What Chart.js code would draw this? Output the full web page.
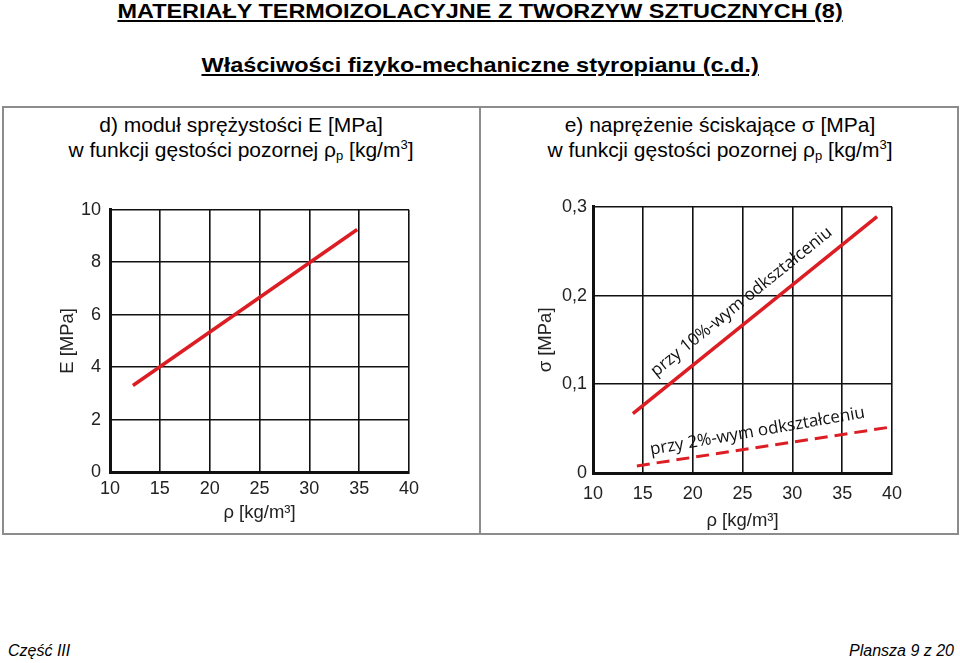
<!DOCTYPE html>
<html lang="pl">
<head>
<meta charset="utf-8">
<script src="https://cdn.jsdelivr.net/npm/chart.js@4.4.1/dist/chart.umd.min.js"></script>
<style>
  body { margin: 0; width: 960px; height: 663px; background: #fff; position: relative; overflow: hidden;
         font-family: "Liberation Sans", Arial, sans-serif; color: #000; }
  .title { position: absolute; left: 0; width: 960px; text-align: center; font-weight: bold;
           font-size: 21px; line-height: 21px; white-space: nowrap; }
  .title span { display: inline-block; text-decoration: underline; transform-origin: 50% 50%; }
  #box { position: absolute; left: 2px; top: 106px; width: 953px; height: 425px; border: 2px solid #8c8c8c; }
  #divider { position: absolute; left: 479px; top: 106px; width: 2px; height: 429px; background: #8c8c8c; }
  .head { position: absolute; top: 112px; width: 478px; text-align: center; font-size: 21px; line-height: 25px; }
  .head sub { font-size: 13px; vertical-align: -3px; line-height: 0; }
  .head sup { font-size: 13px; vertical-align: 8px; line-height: 0; }
  .foot { position: absolute; top: 643px; font-style: italic; font-size: 16px; line-height: 16px; }
  canvas { position: absolute; }
</style>
</head>
<body>
<div class="title" style="top:0"><span data-w="725">MATERIAŁY TERMOIZOLACYJNE Z TWORZYW SZTUCZNYCH (8)</span></div>
<div class="title" style="top:54px"><span data-w="557">Właściwości fizyko-mechaniczne styropianu (c.d.)</span></div>

<div id="box"></div>
<div id="divider"></div>
<div class="head" style="left:2px">d) moduł sprężystości E [MPa]<br>w funkcji gęstości pozornej ρ<sub>p</sub> [kg/m<sup>3</sup>]</div>
<div class="head" style="left:481px">e) naprężenie ściskające σ [MPa]<br>w funkcji gęstości pozornej ρ<sub>p</sub> [kg/m<sup>3</sup>]</div>

<canvas id="chartE" width="460" height="334" style="left:10px;top:190px"></canvas>
<canvas id="chartS" width="460" height="344" style="left:490px;top:190px"></canvas>

<div class="foot" style="left:8px">Część III</div>
<div class="foot" style="right:6px">Plansza 9 z 20</div>

<script>
// d) E modulus vs density
const densityE = [12.3, 34.8];
const modulusE = [3.3, 9.25];

// e) compressive stress vs density
const density10 = [14.0, 38.5];
const stress10 = [0.067, 0.289];
const density2 = [14.4, 40];
const stress2 = [0.008, 0.052];

const labelTexts = ['przy 10%-wym odkształceniu', 'przy 2%-wym odkształceniu'];
const labelX = [24.9, 26.5];
const labelY = [0.193, 0.047];
const labelTilt = [0, -1.2]; // degrees, on top of the line's own slope

// stretch the headings to the width they have in the original slide
document.querySelectorAll('.title span').forEach(el => {
  el.style.transform = 'scaleX(' + (el.dataset.w / el.offsetWidth) + ')';
});

const red = '#dc1e24';
const ink = '#111';
const tickFont = {family: '"Liberation Sans", Arial, sans-serif', size: 18};
const titleFont = {family: '"Liberation Sans", Arial, sans-serif', size: 18.5};

const pts = (xs, ys) => xs.map((x, i) => ({x: x, y: ys[i]}));

function makeScales(o) {
  return {
    x: {
      type: 'linear', min: 10, max: 40,
      ticks: {stepSize: 5, padding: o.xPad, font: tickFont, color: '#222'},
      grid: {color: ink, lineWidth: 1.6, drawTicks: false},
      border: {color: ink, width: 3},
      title: {display: true, text: 'ρ [kg/m³]', font: titleFont, color: '#222', padding: {top: 0, bottom: o.xTitlePad}},
      afterFit: s => { s.height = o.xHeight; }
    },
    y: {
      type: 'linear', min: 0, max: o.yMax,
      ticks: {stepSize: o.yStep, padding: o.yPad, font: tickFont, color: '#222', callback: o.yFmt},
      grid: {color: ink, lineWidth: 1.6, drawTicks: false},
      border: {color: ink, width: 3},
      title: {display: true, text: o.yTitle, font: titleFont, color: '#222', padding: {top: o.yTitlePad, bottom: 0}},
      afterFit: s => { s.width = o.yWidth; }
    }
  };
}

const curveLabels = {
  id: 'curveLabels',
  afterDatasetsDraw(chart) {
    const {ctx, scales: {x, y}} = chart;
    labelTexts.forEach((text, i) => {
      const d = chart.data.datasets[i].data;
      const a = d[0], b = d[d.length - 1];
      const ang = Math.atan2(y.getPixelForValue(b.y) - y.getPixelForValue(a.y),
                             x.getPixelForValue(b.x) - x.getPixelForValue(a.x));
      ctx.save();
      ctx.translate(x.getPixelForValue(labelX[i]), y.getPixelForValue(labelY[i]));
      ctx.rotate(ang + labelTilt[i] * Math.PI / 180);
      ctx.font = '17px "Open Sans", sans-serif';
      ctx.fillStyle = ink;
      ctx.textAlign = 'center';
      ctx.textBaseline = 'middle';
      ctx.fillText(text, 0, 0);
      ctx.restore();
    });
  }
};

new Chart(document.getElementById('chartE'), {
  type: 'scatter',
  data: {
    datasets: [{data: pts(densityE, modulusE), showLine: true, borderColor: red, borderWidth: 3.5, pointRadius: 0}]
  },
  options: {
    responsive: false, animation: false,
    layout: {padding: {top: 14, right: 61, left: 0, bottom: 0}},
    plugins: {legend: {display: false}, tooltip: {enabled: false}},
    scales: makeScales({
      xPad: 6, xHeight: 52, xTitlePad: 0,
      yMax: 10, yStep: 2, yPad: 9, yWidth: 100, yTitle: 'E [MPa]', yTitlePad: 47,
      yFmt: v => String(v)
    })
  }
});

new Chart(document.getElementById('chartS'), {
  type: 'scatter',
  data: {
    datasets: [
      {data: pts(density10, stress10), showLine: true, borderColor: red, borderWidth: 3.5, pointRadius: 0},
      {data: pts(density2, stress2), showLine: true, borderColor: red, borderWidth: 3, borderDash: [13, 7], pointRadius: 0}
    ]
  },
  options: {
    responsive: false, animation: false,
    layout: {padding: {top: 16, right: 58, left: 0, bottom: 0}},
    plugins: {legend: {display: false}, tooltip: {enabled: false}},
    scales: makeScales({
      xPad: 10, xHeight: 61, xTitlePad: 2,
      yMax: 0.3, yStep: 0.1, yPad: 6, yWidth: 103, yTitle: 'σ [MPa]', yTitlePad: 45,
      yFmt: v => v === 0 ? '0' : v.toFixed(1).replace('.', ',')
    })
  },
  plugins: [curveLabels]
});
</script>
</body>
</html>
